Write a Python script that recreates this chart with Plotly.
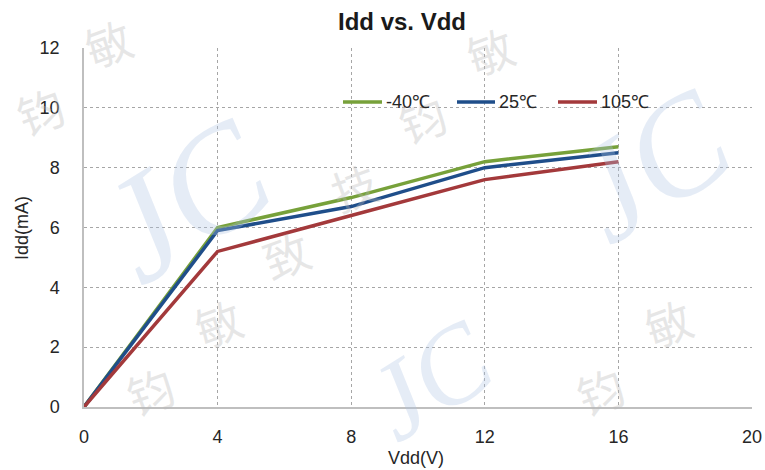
import plotly.graph_objects as go

# Supply current vs supply voltage at three temperatures
vdd = [0, 4, 8, 12, 16]
idd_m40 = [0, 6.0, 7.0, 8.2, 8.7]
idd_25 = [0, 5.9, 6.7, 8.0, 8.5]
idd_105 = [0, 5.2, 6.4, 7.6, 8.2]

series_names = ["-40℃", "25℃", "105℃"]
series_colors = ["#77A13A", "#1F4E8A", "#A3393B"]

x_ticks = [0, 4, 8, 12, 16, 20]
y_ticks = [0, 2, 4, 6, 8, 10, 12]

W, H = 765, 470
L, R, T, B = 84, 13, 48, 63
FONT = "Liberation Sans, Arial, sans-serif"


# pixel position on the page -> paper coordinates (relative to the plot area)
def px_x(p):
    return (p - L) / (W - L - R)


def px_y(p):
    return (H - B - p) / (H - T - B)


fig = go.Figure()
for name, ys, col in zip(series_names, [idd_m40, idd_25, idd_105], series_colors):
    fig.add_trace(go.Scatter(
        x=vdd, y=ys, name=name, mode="lines",
        line=dict(color=col, width=3.5),
        hoverinfo="x+y+name", showlegend=False,
    ))

annotations = []
shapes = []

# Faint background watermark: "JC" monogram and company characters
for cx, cy, sz in [(185, 200, 150), (650, 165, 140), (430, 380, 110)]:
    annotations.append(dict(
        xref="paper", yref="paper", x=px_x(cx), y=px_y(cy),
        text="<i>JC</i>", showarrow=False, textangle=-32,
        font=dict(family="Liberation Serif, serif", size=sz,
                  color="rgba(175,196,228,0.32)"),
        xanchor="center", yanchor="middle",
    ))

chars = "钧敏致技"
for diag, start in [(540, 150), (990, 600), (150, 40)]:
    for i in range(8):
        cx = start + i * 68
        cy = diag - cx
        if 40 <= cx <= W - 40 and 40 <= cy <= H - 35:
            annotations.append(dict(
                xref="paper", yref="paper", x=px_x(cx), y=px_y(cy),
                text=chars[i % 4], showarrow=False, textangle=-20,
                font=dict(family="Noto Sans CJK SC, sans-serif", size=46,
                          color="rgba(185,185,185,0.35)"),
                xanchor="center", yanchor="middle",
            ))

# Legend drawn inside the plot area: line sample + label
legend_y = 102
legend_items = [(343, 382), (457, 495), (558, 597)]
for (x0, x1), name, col in zip(legend_items, series_names, series_colors):
    shapes.append(dict(
        type="line", xref="paper", yref="paper",
        x0=px_x(x0), x1=px_x(x1), y0=px_y(legend_y), y1=px_y(legend_y),
        line=dict(color=col, width=3.5),
    ))
    annotations.append(dict(
        xref="paper", yref="paper", x=px_x(x1 + 2), y=px_y(legend_y),
        text=name, showarrow=False, xanchor="left", yanchor="middle",
        font=dict(family=FONT, size=18, color="#262626"),
    ))

# Axis titles
annotations.append(dict(
    xref="paper", yref="paper", x=px_x(416), y=px_y(458),
    text="Vdd(V)", showarrow=False, xanchor="center", yanchor="middle",
    font=dict(family=FONT, size=18, color="#262626"),
))
annotations.append(dict(
    xref="paper", yref="paper", x=px_x(22), y=px_y(228),
    text="Idd(mA)", showarrow=False, xanchor="center", yanchor="middle",
    textangle=-90, font=dict(family=FONT, size=18, color="#262626"),
))

fig.update_layout(
    width=W, height=H,
    margin=dict(l=L, r=R, t=T, b=B, autoexpand=False),
    paper_bgcolor="white", plot_bgcolor="white",
    font=dict(family=FONT, size=18, color="#262626"),
    title=dict(
        text="<b>Idd vs. Vdd</b>", x=402 / W, xref="container", xanchor="center",
        y=1 - 22 / H, yref="container", yanchor="middle",
        font=dict(family=FONT, size=24, color="#1a1a1a"),
    ),
    showlegend=False,
    annotations=annotations,
    shapes=shapes,
    xaxis=dict(
        range=[0, 20], tickvals=x_ticks, ticktext=[str(v) for v in x_ticks],
        showgrid=True, gridcolor="#A6A6A6", griddash="3px,3px", gridwidth=1,
        showline=True, linecolor="#BFBFBF", linewidth=1.5,
        zeroline=False, ticks="", ticklabelstandoff=13, automargin=False,
        tickfont=dict(size=18), fixedrange=True,
    ),
    yaxis=dict(
        range=[0, 12], tickvals=y_ticks, ticktext=[str(v) for v in y_ticks],
        showgrid=True, gridcolor="#A6A6A6", griddash="3px,3px", gridwidth=1,
        showline=True, linecolor="#BFBFBF", linewidth=1.5,
        zeroline=False, ticks="", ticklabelstandoff=19, automargin=False,
        tickfont=dict(size=18), fixedrange=True,
    ),
)

fig.write_html("out.html")
